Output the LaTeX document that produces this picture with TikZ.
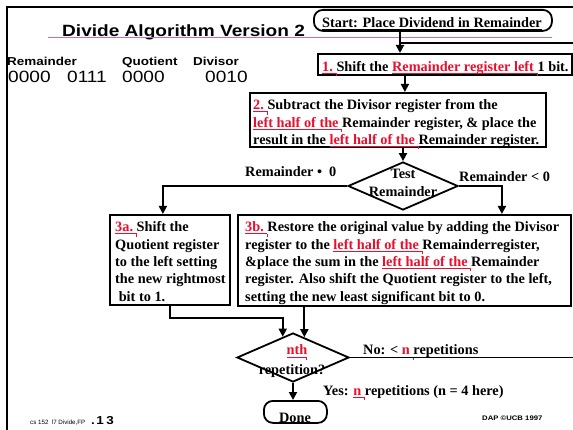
\documentclass[tikz,border=0pt]{standalone}
\usepackage{fontspec}
\setmainfont{Liberation Serif}
\newfontfamily\helv[FakeStretch=1.17]{Liberation Sans}
\newfontfamily\helvplain{Liberation Sans}
\usetikzlibrary{shapes.geometric,arrows.meta,calc}
\definecolor{hlred}{RGB}{235,15,45}
\definecolor{rulepurple}{RGB}{180,110,235}
% underline with a fixed depth, in a given colour
\newcommand\ulx[2]{{\color{#1}\setbox0\hbox{#2}\rlap{\rule[-2.4pt]{\wd0}{0.9pt}}\box0}}
% red underlined keyword with a small tail at its end
\newcommand\hl[1]{\ulx{hlred}{#1}{\color{hlred}\llap{\rule[-4.6pt]{0.9pt}{3pt}}}}
\newcommand\lines[1]{\begin{tabular}[t]{@{}l@{}}#1\end{tabular}}
\newcommand\clines[1]{\begin{tabular}[t]{@{}c@{}}#1\end{tabular}}
\begin{document}
\begin{tikzpicture}[x=1pt,y=-1pt,
  box/.style={draw,line width=1.8pt,inner sep=0,anchor=north west},
  pill/.style={box,rounded corners=9pt},
  decision/.style={diamond,draw,line width=1.8pt,inner sep=0},
  txt/.style={inner sep=0,anchor=base west,font=\bfseries\fontsize{14.3}{17.3}\selectfont},
  ctxt/.style={txt,anchor=base},
  conn/.style={line width=1.8pt},
  arrow/.style={conn,-{Triangle[length=8pt,width=8pt]}},
  sans/.style={inner sep=0,anchor=base west}]
\fill[white] (0,0) rectangle (573,430);
\useasboundingbox (0,0) rectangle (573,430);

% slide frame (right and bottom sides lie beyond the page)
\draw[line width=2pt] (600,7) -- (7,7) -- (7,450);

% title and its rule
\node[sans,font=\helv\bfseries\fontsize{16.3}{18}\selectfont] (title) at (62,36.5) {Divide Algorithm Version 2};
\draw[rulepurple,line width=1.3pt] (48,37.8) -- (552,37.8);

% register contents
\node[sans,font=\helv\bfseries\fontsize{11.5}{13}\selectfont] (lrem) at (7,66) {Remainder};
\node[sans,font=\helv\bfseries\fontsize{11.5}{13}\selectfont] (lquo) at (122,66) {Quotient};
\node[sans,font=\helv\bfseries\fontsize{11.5}{13}\selectfont] (ldiv) at (193,66) {Divisor};
\node[sans,font=\helv\fontsize{16.3}{18}\selectfont] (vremhi) at (8,82.5) {0000};
\node[sans,font=\helv\fontsize{16.3}{18}\selectfont] (vremlo) at (67,82.5) {0111};
\node[sans,font=\helv\fontsize{16.3}{18}\selectfont] (vquo) at (122,82.5) {0000};
\node[sans,font=\helv\fontsize{16.3}{18}\selectfont] (vdiv) at (205,82.5) {0010};

% flowchart boxes
\node[pill,minimum width=238pt,minimum height=21pt] (start) at (313,9) {};
\node[box,minimum width=254pt,minimum height=21pt] (shift) at (317,53) {};
\node[box,minimum width=296pt,minimum height=54pt] (sub) at (249,92) {};
\node[decision,minimum width=110pt,minimum height=48pt] (test) at (403,186) {};
\node[box,minimum width=120pt,minimum height=90pt] (q3a) at (109,214) {};
\node[box,minimum width=333pt,minimum height=91pt] (r3b) at (237,214) {};
\node[decision,minimum width=112pt,minimum height=49pt] (rep) at (293,357.5) {};
\node[pill,minimum width=63pt,minimum height=22pt] (done) at (263,400) {};

% box texts
\node[ctxt] (tstart) at (432,28) {\ulx{black}{Start: Place Dividend in Remainder}};
\node[txt] (tshift) at (322,71.5) {\hl{1.\ }Shift the \hl{Remainder register left }1 bit.};
\node[txt] (tsub) at (253,110) {\lines{\hl{2.\ }Subtract the Divisor register from the\\
  \hl{left half of the }Remainder register, \& place the\\
  result in the \hl{left half of the }Remainder register.}};
\node[ctxt] (ttest) at (403,179) {\clines{Test\\Remainder}};
\node[txt] (t3a) at (115,232) {\lines{\hl{3a.\ }Shift the\\Quotient register\\to the left setting\\the new rightmost\\\ bit to 1.}};
\node[txt] (t3b) at (245,232) {\lines{\hl{3b.\ }Restore the original value by adding the Divisor\\
  register to the \hl{left half of the }Remainderregister,\\
  \&place the sum in the \hl{left half of the }Remainder\\
  register. Also shift the Quotient register to the left,\\
  setting the new least significant bit to 0.}};
\node[ctxt] (tnth) at (297,355) {\hl{nth}};
\node[ctxt] (trep) at (292,374) {repetition?};
\node[ctxt] (tdone) at (295,422) {Done};

% branch labels
\node[txt] (lge) at (245,177) {Remainder~\textbullet~~0};
\node[txt] (llt) at (459,182) {Remainder < 0};
\node[txt] (lno) at (363,355) {No: < \hl{n }repetitions};
\node[txt] (lyes) at (323,395) {Yes: \hl{n }repetitions (n = 4 here)};

% connectors
\coordinate (loopin) at (400,43);
\coordinate (farright) at (590,43);
\coordinate (in3a) at ($(rep.north)!0.18!(rep.west)$);
\coordinate (in3b) at ($(rep.north)!0.2!(rep.east)$);
\draw[conn] (start.south -| loopin) -- (loopin);
\draw[arrow] (loopin) -- (loopin |- shift.north);
\draw[arrow] ([xshift=-40pt]shift.south) -- ([xshift=-40pt]shift.south |- sub.north);
\draw[arrow] (sub.south -| test.north) -- (test.north);
\draw[arrow] (test.west) -| ([xshift=-7pt]q3a.north);
\draw[arrow] (test.east) -| ([xshift=97.5pt]r3b.north);
\draw[arrow] (q3a.south) -- ++(0,12) -| (in3a);
\draw[arrow] (in3b |- r3b.south) -- (in3b);
\draw[arrow] (rep.south) -- (rep.south |- done.north);
\draw[conn] (rep.east) -- (rep.east -| farright) -- (farright) -- (loopin);

% footer
\node[sans,font=\helvplain\fontsize{6.2}{7}\selectfont] (course) at (30,424) {cs 152\ \ l7 Divide,FP};
\node[sans,font=\helv\bfseries\fontsize{11.5}{12}\selectfont] (page) at (91,424) {.\hspace{1.5pt}1\hspace{2.5pt}3};
\node[sans,font=\helv\bfseries\fontsize{6.6}{8}\selectfont] (credit) at (482,420) {DAP \textcopyright UCB 1997};
\end{tikzpicture}
\end{document}
